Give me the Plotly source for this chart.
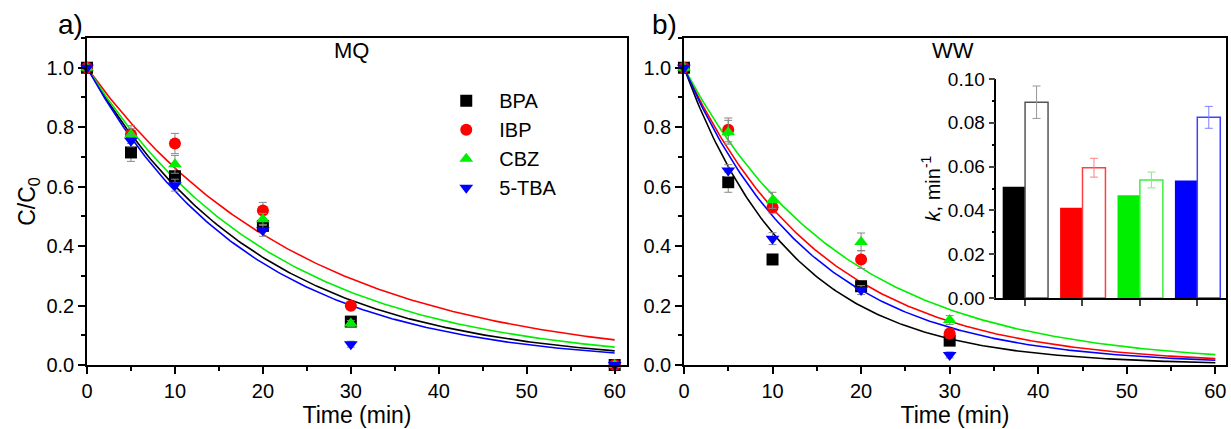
import numpy as np
import plotly.graph_objects as go

# sampling times (min)
t_mq = [0, 5, 10, 20, 30, 60]
t_ww = [0, 5, 10, 20, 30]

names = ["BPA", "IBP", "CBZ", "5-TBA"]
colors = ["#000000", "#ff0000", "#00ee00", "#0000ff"]
symbols = ["square", "circle", "triangle-up", "triangle-down"]

# C/C0, MQ water
mq_bpa = [1.0, 0.715, 0.635, 0.468, 0.146, 0.0]
mq_ibp = [1.0, 0.775, 0.745, 0.520, 0.199, 0.0]
mq_cbz = [1.0, 0.775, 0.675, 0.490, 0.140, 0.0]
mq_tba = [1.0, 0.754, 0.605, 0.453, 0.070, 0.0]
mq_bpa_err = [0, 0.030, 0.015, 0.010, 0.010, 0]
mq_ibp_err = [0, 0.020, 0.034, 0.027, 0.010, 0]
mq_cbz_err = [0, 0.030, 0.030, 0.020, 0.010, 0]
mq_tba_err = [0, 0.020, 0.020, 0.020, 0.010, 0]

# C/C0, wastewater
ww_bpa = [1.0, 0.615, 0.355, 0.265, 0.082]
ww_ibp = [1.0, 0.791, 0.531, 0.355, 0.106]
ww_cbz = [1.0, 0.783, 0.554, 0.414, 0.151]
ww_tba = [1.0, 0.654, 0.425, 0.252, 0.034]
ww_bpa_err = [0, 0.034, 0.010, 0.015, 0.010]
ww_ibp_err = [0, 0.040, 0.020, 0.030, 0.015]
ww_cbz_err = [0, 0.040, 0.027, 0.030, 0.015]
ww_tba_err = [0, 0.020, 0.020, 0.015, 0.010]

# rate constants of the fitted curves in panel b (min^-1)
k_ww_fit = [0.081, 0.064, 0.056, 0.069]

# pseudo-first-order rate constants k (min^-1), shown in the inset
k_mq = [0.0508, 0.0412, 0.0469, 0.0536]
k_ww = [0.0894, 0.0595, 0.0539, 0.0825]
k_ww_err = [0.0074, 0.0043, 0.0036, 0.0050]
open_line = ["#555555", "#ff4040", "#40ee40", "#4040ff"]
err_colors = ["#999999", "#ff8080", "#80ee80", "#8080ff"]

mq = [mq_bpa, mq_ibp, mq_cbz, mq_tba]
mq_err = [mq_bpa_err, mq_ibp_err, mq_cbz_err, mq_tba_err]
ww = [ww_bpa, ww_ibp, ww_cbz, ww_tba]
ww_err = [ww_bpa_err, ww_ibp_err, ww_cbz_err, ww_tba_err]

FONT = "Liberation Sans, Arial, sans-serif"
fig = go.Figure()

# fitted curves C/C0 = exp(-k t)
t_fit = np.linspace(0, 60, 200)
for i in range(4):
    fig.add_trace(go.Scatter(x=t_fit, y=np.exp(-k_mq[i] * t_fit), mode="lines",
                             line=dict(color=colors[i], width=1.6), showlegend=False,
                             xaxis="x", yaxis="y", hoverinfo="skip"))
    fig.add_trace(go.Scatter(x=t_fit, y=np.exp(-k_ww_fit[i] * t_fit), mode="lines",
                             line=dict(color=colors[i], width=1.6), showlegend=False,
                             xaxis="x2", yaxis="y2", hoverinfo="skip"))

# measured points
for i in range(4):
    fig.add_trace(go.Scatter(
        x=t_mq, y=mq[i], mode="markers", name=names[i], legendgroup=names[i],
        marker=dict(color=colors[i], symbol=symbols[i], size=12),
        error_y=dict(type="data", array=mq_err[i], color="#888888", thickness=1, width=4),
        cliponaxis=False, xaxis="x", yaxis="y"))
    fig.add_trace(go.Scatter(
        x=t_ww, y=ww[i], mode="markers", name=names[i], legendgroup=names[i],
        showlegend=False,
        marker=dict(color=colors[i], symbol=symbols[i], size=12),
        error_y=dict(type="data", array=ww_err[i], color="#888888", thickness=1, width=4),
        cliponaxis=False, xaxis="x2", yaxis="y2"))

# inset: filled bars = MQ, open bars = WW
cats = [0, 1, 2, 3]
fig.add_trace(go.Bar(x=cats, y=k_mq, offset=-0.39, width=0.39,
                     marker=dict(color=colors, line=dict(width=0)),
                     showlegend=False, xaxis="x3", yaxis="y3"))
for i in range(4):
    fig.add_trace(go.Bar(x=[cats[i]], y=[k_ww[i]], offset=0, width=0.4,
                         marker=dict(color="white", line=dict(color=open_line[i], width=1.5)),
                         error_y=dict(type="data", array=[k_ww_err[i]], color=err_colors[i],
                                      thickness=1, width=4),
                         showlegend=False, xaxis="x3", yaxis="y3"))

axis_common = dict(showline=True, linecolor="black", linewidth=1.5, mirror=True,
                   ticks="outside", ticklen=7, tickwidth=1.5, tickcolor="black",
                   showgrid=False, zeroline=False,
                   tickfont=dict(family=FONT, size=20, color="black"))
xcommon = dict(axis_common, dtick=10, tick0=0,
               minor=dict(dtick=5, ticks="outside", ticklen=4, tickcolor="black", tickwidth=1.5),
               title=dict(text="Time (min)", font=dict(family=FONT, size=23, color="black"),
                          standoff=0))
ycommon = dict(axis_common, dtick=0.2, tick0=0, tickformat=".1f", range=[0, 1.1],
               minor=dict(dtick=0.1, ticks="outside", ticklen=4, tickcolor="black", tickwidth=1.5))


def label(text, x, y, size):
    return dict(text=text, x=x, y=y, xref="paper", yref="paper", showarrow=False,
                xanchor="center", yanchor="middle",
                font=dict(family=FONT, size=size, color="black"))


fig.update_layout(
    width=1231, height=429,
    margin=dict(l=87, r=3, t=38, b=64),
    paper_bgcolor="white", plot_bgcolor="rgba(0,0,0,0)",
    font=dict(family=FONT, color="black"),
    barmode="overlay",
    xaxis=dict(xcommon, domain=[0, 0.4741], range=[0, 61.4], anchor="y"),
    yaxis=dict(ycommon, anchor="x",
               title=dict(text="C/C<sub>0</sub>", font=dict(family=FONT, size=23, color="black"),
                          standoff=4)),
    xaxis2=dict(xcommon, domain=[0.5241, 1.0], range=[0, 61.2], anchor="y2"),
    yaxis2=dict(ycommon, anchor="x2"),
    xaxis3=dict(domain=[0.7984, 1.0], range=[-0.5, 3.5], anchor="y3",
                showline=True, linecolor="black", linewidth=1.5,
                ticks="outside", ticklen=6, tickwidth=1.5, tickvals=cats,
                showticklabels=False, showgrid=False, zeroline=False),
    yaxis3=dict(domain=[0.2049, 0.8746], range=[0, 0.1], anchor="x3",
                showline=True, linecolor="black", linewidth=1.5,
                ticks="outside", ticklen=6, tickwidth=1.5, dtick=0.02, tickformat=".2f",
                minor=dict(dtick=0.01, ticks="outside", ticklen=3, tickcolor="black", tickwidth=1.5),
                showgrid=False, zeroline=False,
                tickfont=dict(family=FONT, size=19, color="black"),
                title=dict(text="<i>k</i>, min<sup>-1</sup>",
                           font=dict(family=FONT, size=20, color="black"), standoff=2)),
    legend=dict(x=0.304, y=0.868, xanchor="left", yanchor="top", itemwidth=56,
                bgcolor="rgba(0,0,0,0)", font=dict(family=FONT, size=20, color="black"),
                tracegroupgap=0, traceorder="grouped"),
    showlegend=True,
    annotations=[
        label("a)", -0.0149, 1.04, 28),
        label("b)", 0.5066, 1.04, 28),
        label("MQ", 0.2323, 0.963, 22),
        label("WW", 0.7607, 0.963, 22),
    ],
)

fig.write_html("out.html", config={"displayModeBar": False},
               post_script="document.body.style.margin='0';")
